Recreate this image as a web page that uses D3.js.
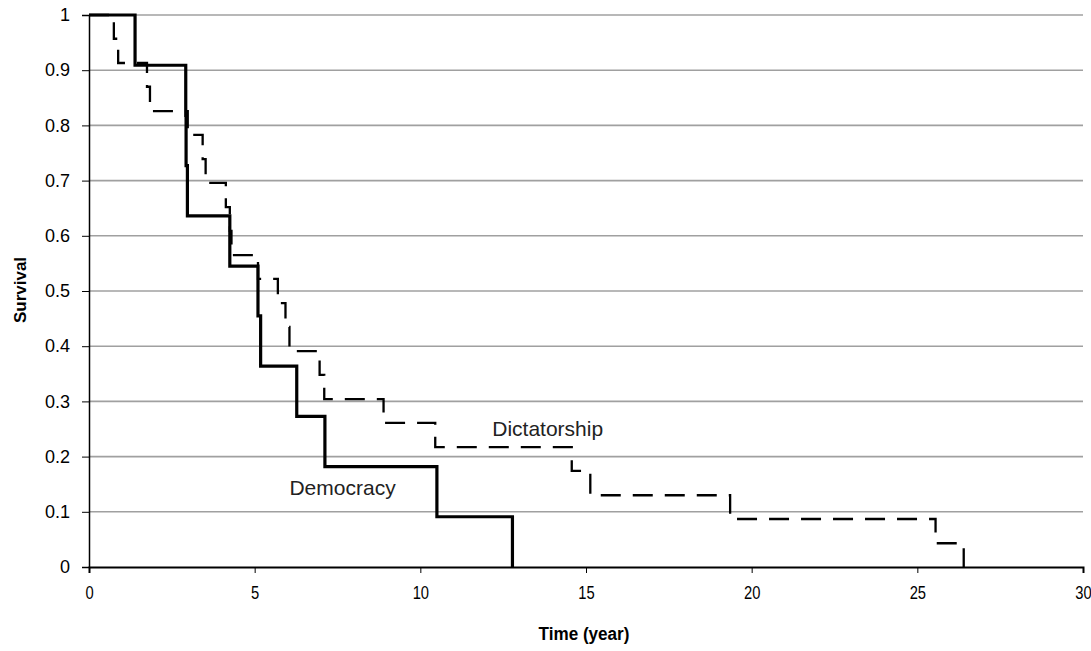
<!DOCTYPE html>
<html>
<head>
<meta charset="utf-8">
<script src="https://cdn.jsdelivr.net/npm/d3@7"></script>
<style>
  body { margin: 0; background: #fff; }
  svg { display: block; font-family: "Liberation Sans", Arial, sans-serif; }
  .grid line { stroke: #a0a0a0; stroke-width: 1.6; }
  .axis path, .axis line { stroke: #000; }
  .axis text { font-size: 18px; fill: #000; }
</style>
</head>
<body>
<script>
// Kaplan-Meier style survival curves: time of each drop and survival after it
var demTimes = [1.39, 2.92, 2.93, 2.97, 4.25, 5.10, 5.18, 6.27, 7.12, 10.50, 12.78];
var demSurv  = [0.909, 0.818, 0.727, 0.636, 0.545, 0.455, 0.364, 0.273, 0.182, 0.091, 0];

var dicTimes = [0.75, 0.88, 1.75, 1.84, 2.98, 3.43, 3.52, 4.13, 4.25, 4.30, 5.10, 5.70,
                5.93, 6.05, 6.96, 7.10, 8.89, 10.45, 14.57, 15.13, 19.35, 25.55, 26.40];
var dicSurv  = [0.957, 0.913, 0.870, 0.826, 0.783, 0.739, 0.696, 0.652, 0.609, 0.565, 0.522, 0.478,
                0.435, 0.391, 0.348, 0.304, 0.261, 0.217, 0.174, 0.130, 0.087, 0.043, 0];

var xTicks = [0, 5, 10, 15, 20, 25, 30];
var yTicks = [0, 0.1, 0.2, 0.3, 0.4, 0.5, 0.6, 0.7, 0.8, 0.9, 1];

var curveLabels = [
  { name: "Dictatorship", t: 12.17, s: 0.238 },
  { name: "Democracy", t: 6.05, s: 0.130 }
];

/***** Configuration *****/
var margin = { top: 15, right: 8, bottom: 84, left: 89 };
var width = 1091 - margin.left - margin.right;
var height = 651 - margin.top - margin.bottom;

var x = d3.scaleLinear().domain([0, 30]).range([0, width]);
var y = d3.scaleLinear().domain([0, 1]).range([height, 0]);

var svg = d3.select("body").append("svg")
  .attr("width", 1091)
  .attr("height", 651);

var g = svg.append("g")
  .attr("transform", "translate(" + margin.left + "," + margin.top + ")");

// horizontal gridlines
g.append("g").attr("class", "grid")
  .selectAll("line")
  .data(yTicks.filter(function (d) { return d > 0; }))
  .join("line")
  .attr("x1", 0).attr("x2", width)
  .attr("y1", function (d) { return y(d); })
  .attr("y2", function (d) { return y(d); });

// axes
var yAxis = g.append("g").attr("class", "axis")
  .call(d3.axisLeft(y).tickValues(yTicks).tickSize(7).tickPadding(12)
    .tickFormat(function (d) { return String(d); }));
yAxis.select(".domain").attr("stroke-width", 1.5);

var xAxis = g.append("g").attr("class", "axis")
  .attr("transform", "translate(0," + height + ")")
  .call(d3.axisBottom(x).tickValues(xTicks).tickSize(6).tickPadding(13)
    .tickFormat(d3.format("d")));
xAxis.select(".domain").attr("stroke-width", 2).attr("stroke", "#333");
// the reference uses a condensed face for the time ticks
xAxis.selectAll(".tick text").attr("transform", "scale(0.82,1)");

// step curves
function stepPoints(times, surv) {
  var pts = [[0, 1]];
  times.forEach(function (t, i) { pts.push([t, surv[i]]); });
  return pts;
}

var line = d3.line()
  .x(function (d) { return x(d[0]); })
  .y(function (d) { return y(d[1]); })
  .curve(d3.curveStepAfter);

g.append("path")
  .datum(stepPoints(dicTimes, dicSurv))
  .attr("fill", "none")
  .attr("stroke", "#000")
  .attr("stroke-width", 2.3)
  .attr("stroke-dasharray", "20,12")
  .attr("d", line);

g.append("path")
  .datum(stepPoints(demTimes, demSurv))
  .attr("fill", "none")
  .attr("stroke", "#000")
  .attr("stroke-width", 3.2)
  .attr("d", line);

// curve labels
g.selectAll("text.curveLabel")
  .data(curveLabels)
  .join("text")
  .attr("class", "curveLabel")
  .attr("x", function (d) { return x(d.t); })
  .attr("y", function (d) { return y(d.s); })
  .attr("font-size", 21)
  .attr("fill", "#222")
  .text(function (d) { return d.name; });

// axis titles
svg.append("text")
  .attr("transform", "translate(" + (margin.left + x(15) - 2) + ",640) scale(0.9,1)")
  .attr("text-anchor", "middle")
  .attr("font-size", 19)
  .attr("font-weight", "bold")
  .text("Time (year)");

svg.append("text")
  .attr("transform", "translate(26," + (margin.top + y(0.5) - 1) + ") rotate(-90)")
  .attr("text-anchor", "middle")
  .attr("font-size", 17)
  .attr("font-weight", "bold")
  .text("Survival");
</script>
</body>
</html>
